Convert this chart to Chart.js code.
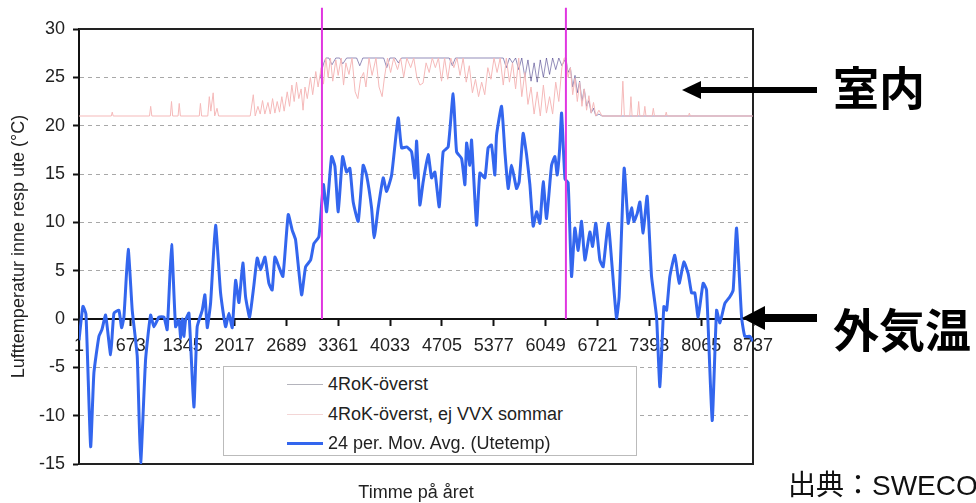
<!DOCTYPE html>
<html><head><meta charset="utf-8">
<script src="https://cdn.jsdelivr.net/npm/chart.js@4.4.1/dist/chart.umd.min.js"></script>
<style>
html,body{margin:0;padding:0;background:#fff;overflow:hidden}
#wrap{position:relative;width:976px;height:503px;overflow:hidden;font-family:"Liberation Sans",Arial,sans-serif;color:#222}
#c{position:absolute;left:0;top:0}
.legend{position:absolute;left:223px;top:366px;width:414px;height:90px;border:1px solid #bbb;background:#fff;box-sizing:border-box}
.row{position:absolute;left:0;width:100%;height:22px}
.sample{position:absolute;left:63px;width:36px}
.lt{position:absolute;left:104px;top:0;font-size:18px;line-height:22px;white-space:nowrap;color:#222}
.xtitle{position:absolute;left:316px;width:200px;top:481px;text-align:center;font-size:18px;line-height:22px;color:#222}
.jp{position:absolute;font-family:"Noto Sans CJK JP",sans-serif;font-weight:700;font-size:46px;line-height:46px;color:#000;white-space:nowrap}
.src{position:absolute;left:788px;top:470px;font-family:"Liberation Sans","Noto Sans CJK JP",sans-serif;font-size:28px;line-height:32px;color:#111;white-space:nowrap}
svg{position:absolute;left:0;top:0}
</style>
</head><body>
<div id="wrap">
<canvas id="c" width="976" height="503"></canvas>
<div class="legend">
  <div class="row" style="top:6px"><div class="sample" style="top:11px;border-top:1px solid #b4b4bc"></div><div class="lt">4RoK-överst</div></div>
  <div class="row" style="top:36px"><div class="sample" style="top:11px;border-top:1px solid #f3d6d6"></div><div class="lt">4RoK-överst, ej VVX sommar</div></div>
  <div class="row" style="top:65px"><div class="sample" style="top:10px;border-top:3px solid #3366ee"></div><div class="lt">24 per. Mov. Avg. (Utetemp)</div></div>
</div>
<div class="xtitle">Timme på året</div>
<svg width="976" height="503">
  <rect x="698" y="87" width="119" height="6" fill="#000"/>
  <polygon points="682,90 701,81 701,99" fill="#000"/>
  <rect x="760" y="314" width="57" height="8" fill="#000"/>
  <polygon points="742,318 765,306 765,330" fill="#000"/>
</svg>
<div class="jp" style="left:833px;top:62px">室内</div>
<div class="jp" style="left:833px;top:304px">外気温</div>
<div class="src">出典：SWECO</div>
</div>
<script>
// ---- Data ----
const xTickLabels = [1, 673, 1345, 2017, 2689, 3361, 4033, 4705, 5377, 6049, 6721, 7393, 8065, 8737];
const yTickRange = [-15, 30];

// 24 per. Mov. Avg. (Utetemp)
const outdoorHours = [
  1, 52, 91, 152, 194, 259, 298, 346, 411, 454,
  518, 553, 583, 639, 691, 756, 800, 864, 929, 972,
  1037, 1102, 1144, 1201, 1253, 1296, 1320, 1340, 1360, 1383,
  1426, 1490, 1533, 1598, 1633, 1663, 1707, 1771, 1836, 1901,
  1944, 1987, 2031, 2074, 2125, 2160, 2212, 2268, 2311, 2355,
  2411, 2462, 2505, 2540, 2592, 2644, 2713, 2764, 2808, 2886,
  2938, 3003, 3046, 3110, 3150, 3170, 3210, 3275, 3318, 3361,
  3418, 3469, 3512, 3555, 3620, 3684, 3728, 3793, 3827, 3879,
  3944, 3988, 4053, 4138, 4182, 4247, 4312, 4355, 4377, 4419,
  4462, 4527, 4571, 4614, 4670, 4721, 4786, 4851, 4895, 4960,
  5003, 5025, 5067, 5089, 5154, 5197, 5262, 5304, 5348, 5391,
  5413, 5478, 5521, 5564, 5608, 5672, 5706, 5758, 5802, 5845,
  5888, 5932, 5975, 6018, 6061, 6126, 6169, 6199, 6230, 6256,
  6300, 6341, 6385, 6428, 6471, 6515, 6558, 6623, 6658, 6700,
  6752, 6795, 6860, 6904, 6968, 7002, 7067, 7119, 7163, 7193,
  7236, 7271, 7313, 7365, 7422, 7487, 7530, 7582, 7617, 7659,
  7724, 7780, 7841, 7897, 7941, 7983, 8026, 8091, 8135, 8208,
  8265, 8308, 8372, 8437, 8480, 8524, 8589, 8631, 8696, 8737
];
const outdoorTemps = [
  -2.2, 1.3, 0.5, -13.2, -5.6, -1.8, -1.1, 0.4, -3.7, 0.6,
  0.9, -0.9, 0.2, 7.2, 0.9, -3.9, -14.9, -4.2, 0.4, -0.8,
  0.2, 0.2, -1.1, 7.7, -0.8, -0.1, -2.0, 0.0, -1.8, -0.1,
  0.6, -9.1, -0.8, 0.9, 2.5, -0.9, 1.7, 9.7, 2.7, -0.8,
  0.6, -0.9, 4.0, 1.7, 5.8, 2.3, 0.2, 3.5, 6.3, 5.1,
  6.4, 3.7, 3.0, 6.4, 5.4, 4.4, 10.8, 9.2, 8.2, 2.5,
  5.4, 6.1, 7.8, 8.5, 12.3, 13.9, 11.1, 16.8, 15.8, 11.1,
  16.8, 15.2, 15.6, 12.1, 10.1, 15.9, 14.9, 11.5, 8.4, 11.5,
  14.6, 13.2, 14.9, 20.8, 17.7, 17.8, 17.3, 14.6, 18.4, 11.8,
  14.2, 17.0, 14.6, 15.2, 11.6, 17.3, 17.8, 23.3, 17.3, 16.6,
  13.9, 18.2, 15.9, 18.5, 9.7, 15.1, 14.6, 17.7, 18.0, 14.9,
  19.0, 22.0, 17.3, 13.5, 15.9, 13.5, 14.2, 19.2, 17.0, 13.9,
  9.6, 11.1, 9.9, 14.2, 10.4, 15.9, 16.8, 14.9, 17.5, 21.3,
  14.5, 14.1, 4.4, 9.4, 7.1, 10.1, 6.1, 9.0, 7.5, 9.9,
  6.1, 5.4, 9.9, 6.1, 0.1, 2.3, 15.6, 9.9, 11.5, 10.1,
  10.9, 12.1, 8.9, 12.7, 4.4, 0.2, -7.0, 1.3, 0.9, 4.4,
  6.6, 3.7, 5.9, 4.7, 2.7, 2.7, 0.2, 3.7, 3.0, -10.5,
  0.9, -0.4, 1.6, 2.3, 3.0, 9.4, 0.2, -1.8, -1.8, -2.3
];

// 4RoK-överst, ej VVX sommar
const noHxHours = [
  1, 420, 432, 444, 915, 930, 945, 1185, 1200, 1215,
  1285, 1300, 1315, 1560, 1575, 1590, 1670, 1690, 1710, 1740,
  1760, 1790, 1810, 2220, 2260, 2285, 2320, 2350, 2380, 2410,
  2450, 2480, 2510, 2540, 2570, 2600, 2630, 2660, 2700, 2730,
  2760, 2790, 2820, 2850, 2880, 2905, 2930, 2960, 3000, 3030,
  3070, 3100, 3140, 3170, 3200, 3230, 3260, 3290, 3330, 3360,
  3400, 3430, 3460, 3500, 3540, 3580, 3615, 3650, 3690, 3720,
  3760, 3800, 3850, 3890, 3930, 3960, 4000, 4040, 4080, 4130,
  4170, 4210, 4250, 4300, 4340, 4380, 4420, 4460, 4500, 4540,
  4580, 4620, 4660, 4700, 4740, 4780, 4820, 4860, 4900, 4940,
  4980, 5020, 5060, 5100, 5140, 5180, 5220, 5260, 5300, 5340,
  5380, 5420, 5460, 5500, 5540, 5580, 5620, 5660, 5700, 5740,
  5780, 5820, 5860, 5900, 5940, 5980, 6020, 6060, 6100, 6140,
  6180, 6220, 6260, 6290, 6312, 6340, 6370, 6400, 6430, 6460,
  6490, 6520, 6550, 6580, 6610, 6640, 6670, 6700, 6740, 6780,
  7030, 7050, 7070, 7140, 7155, 7170, 7240, 7255, 7270, 7320,
  7335, 7350, 7430, 7445, 7460, 7600, 7612, 7625, 7900, 7912,
  7925, 8737
];
const noHxTemps = [
  21, 21, 21.4, 21, 21, 22.0, 21, 21, 22.5, 21,
  21, 22.3, 21, 21, 22.3, 21, 21, 23.0, 21.5, 23.4,
  21, 21.8, 21, 21, 23.2, 21, 22.0, 21.2, 22.6, 21.2,
  22.4, 21.2, 22.8, 21.3, 22.5, 21.4, 23.0, 21.5, 23.5, 22.0,
  24.2, 22.5, 24.5, 22.8, 23.8, 21.6, 24.0, 22.8, 25.0, 23.2,
  25.6, 24.0, 26.0, 24.3, 27.0, 25.0, 27.0, 24.6, 26.8, 25.2,
  27, 24.2, 26.5, 25.3, 27, 23.5, 22.8, 24.8, 25.5, 24.0,
  27, 25.2, 27, 24.0, 23.0, 25.0, 27, 25.5, 27, 25.8,
  27, 25.0, 27, 26.0, 27, 25.0, 24.2, 24.4, 26.5, 25.5,
  27, 26.0, 27, 24.6, 27, 24.8, 27, 26.0, 27, 25.2,
  27, 24.5, 26.2, 23.4, 24.8, 23.0, 24.5, 23.2, 26.0, 24.8,
  27, 25.5, 27, 24.2, 27, 24.5, 26.5, 23.8, 27, 23.0,
  25.5, 22.2, 24.0, 21.2, 23.5, 21.0, 24.2, 21.3, 23.0, 21.2,
  24.5, 22.5, 26.0, 27.0, 27.0, 25.0, 26.0, 23.2, 24.9, 22.5,
  24.5, 22.0, 23.8, 21.6, 23.1, 21.3, 22.4, 21.0, 21.6, 21.0,
  21, 24.6, 21, 21, 23.0, 21, 21, 22.5, 21, 21,
  22.0, 21, 21, 21.8, 21, 21, 21.4, 21, 21, 21.3,
  21, 21
];

// 4RoK-överst
const baseHours = [
  3120, 3150, 3175, 3200, 3240, 3280, 3330, 3380, 3420, 3470,
  3600, 3640, 3680, 3950, 3990, 4030, 4100, 4140, 4180, 4800,
  4840, 4880, 4920, 5500, 5540, 5580, 5620, 5660, 5700, 5740,
  5780, 5820, 5860, 5900, 5940, 5980, 6020, 6060, 6100, 6140,
  6180, 6220, 6260, 6312, 6340, 6370, 6400, 6430, 6460, 6490,
  6520, 6550, 6580, 6610, 6640, 6670, 6700, 6740, 6780, 8737
];
const baseTemps = [
  24.8, 25.8, 26.5, 27, 27, 26.3, 27, 27, 26.4, 27,
  27, 26.2, 27, 27, 26.0, 27, 27, 26.5, 27, 27,
  26.2, 27, 27, 27, 26.0, 27, 26.5, 27, 25.8, 27,
  25.0, 26.8, 24.6, 26.5, 24.5, 26.8, 25.0, 27, 25.3, 27,
  25.8, 27, 26.2, 27, 25.5, 26.0, 24.0, 25.2, 23.4, 24.6,
  22.5, 23.8, 22.0, 22.6, 21.3, 21.8, 21.0, 21.2, 21.0, 21
];

// Period markers (hour of year) and their top value
const markerHours = [3150, 6312];
const markerRange = [0, 32.2];

const toXY = (hs, vs) => hs.map((h, i) => ({x: h, y: vs[i]}));

const datasets = [
  {label: '4RoK-överst', data: toXY(baseHours, baseTemps), borderColor: 'rgba(60,50,130,0.55)', borderWidth: 1, pointRadius: 0, order: 5},
  {label: '4RoK-överst, ej VVX sommar', data: toXY(noHxHours, noHxTemps), borderColor: 'rgb(245,185,185)', borderWidth: 1, pointRadius: 0, order: 4},
  {label: '24 per. Mov. Avg. (Utetemp)', data: toXY(outdoorHours, outdoorTemps), borderColor: '#3366ee', borderWidth: 3, pointRadius: 0, tension: 0.15, borderJoinStyle: 'round', order: 3}
];
markerHours.forEach((h, i) => datasets.push({
  label: 'marker' + i, data: markerRange.map(v => ({x: h, y: v})),
  borderColor: '#e036e0', borderWidth: 2, pointRadius: 0, clip: false, order: 1
}));

const framePlugin = {
  id: 'frame',
  beforeDatasetsDraw(chart) {
    const {ctx, chartArea: a} = chart;
    ctx.save();
    ctx.strokeStyle = '#222'; ctx.lineWidth = 2;
    ctx.beginPath();
    ctx.moveTo(a.left, a.top); ctx.lineTo(a.right, a.top);
    ctx.lineTo(a.right, a.bottom); ctx.lineTo(a.left, a.bottom);
    ctx.stroke();
    ctx.restore();
  }
};

new Chart(document.getElementById('c'), {
  type: 'line',
  data: {datasets},
  plugins: [framePlugin],
  options: {
    responsive: false,
    animation: false,
    devicePixelRatio: 1,
    layout: {padding: {top: 29, right: 223, bottom: 39, left: 0}},
    plugins: {legend: {display: false}, tooltip: {enabled: false}},
    elements: {line: {tension: 0}},
    scales: {
      x: {
        type: 'linear',
        position: {y: 0},
        min: xTickLabels[0], max: xTickLabels[xTickLabels.length - 1],
        afterBuildTicks: s => { s.ticks = xTickLabels.map(v => ({value: v})); },
        ticks: {autoSkip: false, maxRotation: 0, padding: 10, color: '#222',
          font: {family: '"Liberation Sans", Arial, sans-serif', size: 18},
          callback: v => String(v)},
        grid: {drawOnChartArea: false, drawTicks: true, tickLength: 6, tickColor: '#111', tickWidth: 2},
        border: {display: true, color: '#111', width: 2}
      },
      y: {
        min: yTickRange[0], max: yTickRange[1],
        ticks: {stepSize: 5, padding: 8, color: '#222',
          font: {family: '"Liberation Sans", Arial, sans-serif', size: 18},
          callback: v => String(v)},
        grid: {color: '#a8a8a8', lineWidth: 1, tickLength: 6, tickColor: '#111', tickWidth: 2},
        border: {display: true, color: '#111', width: 2, dash: [4, 4]},
        title: {display: true, text: 'Lufttemperatur inne resp ute (°C)', color: '#222',
          font: {family: '"Liberation Sans", Arial, sans-serif', size: 18}, padding: {top: 8, bottom: 0}},
        afterFit: s => { s.width = 79; }
      }
    }
  }
});
</script>
</body></html>
